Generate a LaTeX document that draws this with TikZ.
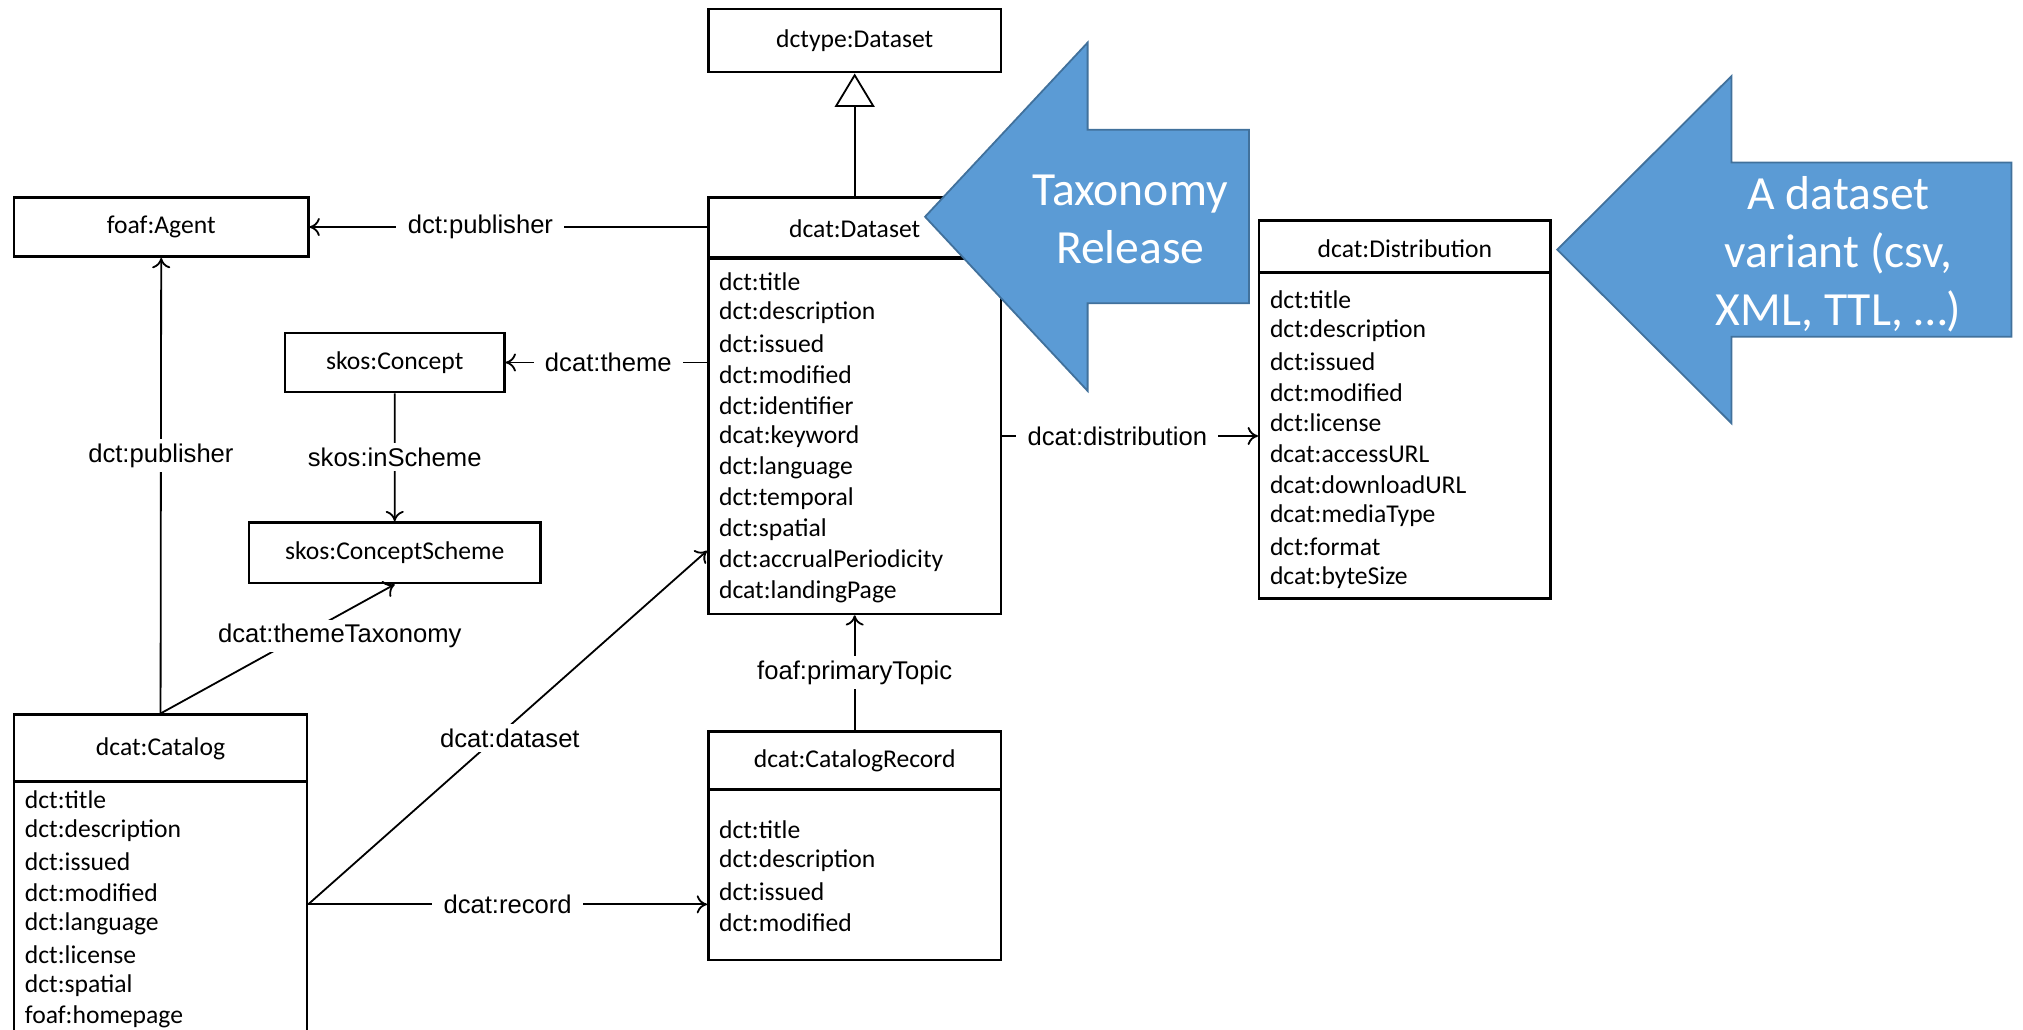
\documentclass[tikz,border=0pt]{standalone}
\usepackage{fontspec}
\setmainfont{Carlito}
\newfontfamily\lblfont{Liberation Sans}
\usetikzlibrary{arrows.meta}
\definecolor{arrowblue}{RGB}{91,155,213}
\definecolor{arrowedge}{RGB}{65,113,156}
\tikzset{
  umlbox/.style={draw,line width=1.1pt,anchor=north west,inner sep=0pt,font=\fontsize{11.3}{13}\selectfont},
  boxname/.style={inner sep=0pt,font=\fontsize{11.3}{13}\selectfont},
  attr/.style={anchor=west,inner sep=0pt,font=\fontsize{11.3}{13}\selectfont},
  divider/.style={line width=1.4pt},
  rel/.style={line width=0.8pt,-{To[length=1.6mm,width=2.8mm]}},
  gen/.style={line width=0.8pt,-{Triangle[open,length=5.2mm,width=6.2mm]}},
  lbl/.style={fill=white,inner xsep=5pt,inner ysep=2pt,font=\lblfont\fontsize{11.3}{13}\selectfont},
  bluearrow/.style={fill=arrowblue,draw=arrowedge,line width=0.8pt},
  bigtext/.style={text=white,align=center,font=\fontsize{21}{25.5}\selectfont}
}
\begin{document}
\begin{tikzpicture}[x=0.02cm,y=-0.02cm]
    \useasboundingbox (0,0) rectangle (1568,798);
    \node[umlbox,minimum width=4.54cm,minimum height=0.98cm] (dctype) at (548,6) {dctype:Dataset};
    \node[umlbox,minimum width=4.56cm,minimum height=0.92cm] (agent) at (10,152) {foaf:Agent};
    \node[umlbox,minimum width=3.4cm,minimum height=0.92cm] (concept) at (220,257) {skos:Concept};
    \node[umlbox,minimum width=4.52cm,minimum height=0.94cm] (scheme) at (192,404) {skos:ConceptScheme};
    \begin{scope}
      \node[umlbox,minimum width=4.54cm,minimum height=6.46cm] (dataset) at (548,152) {};
      \node[boxname] at ([yshift=-0.5cm]dataset.north) {dcat:Dataset};
      \draw[divider] ([yshift=-0.96cm]dataset.north west) -- ([yshift=-0.96cm]dataset.north east);
      \foreach \a [count=\i from 0] in {dct:title,dct:description,dct:issued,dct:modified,dct:identifier,dcat:keyword,dct:language,dct:temporal,dct:spatial,dct:accrualPeriodicity,dcat:landingPage}{
        \node[attr] at (557,{218+24.1*\i}) {\a};
      }
    \end{scope}
    \begin{scope}
      \node[umlbox,minimum width=4.52cm,minimum height=5.86cm] (dist) at (975,170) {};
      \node[boxname] at ([yshift=-0.46cm]dist.north) {dcat:Distribution};
      \draw[divider] ([yshift=-0.83cm]dist.north west) -- ([yshift=-0.83cm]dist.north east);
      \foreach \a [count=\i from 0] in {dct:title,dct:description,dct:issued,dct:modified,dct:license,dcat:accessURL,dcat:downloadURL,dcat:mediaType,dct:format,dcat:byteSize}{
        \node[attr] at (984,{232+24*\i}) {\a};
      }
    \end{scope}
    \begin{scope}
      \node[umlbox,minimum width=4.54cm,minimum height=5.2cm] (catalog) at (10,553) {};
      \node[boxname] at ([yshift=-0.54cm]catalog.north) {dcat:Catalog};
      \draw[divider] ([yshift=-1.06cm]catalog.north west) -- ([yshift=-1.06cm]catalog.north east);
      \foreach \a [count=\i from 0] in {dct:title,dct:description,dct:issued,dct:modified,dct:language,dct:license,dct:spatial,foaf:homepage}{
        \node[attr] at (19,{620+24*\i}) {\a};
      }
    \end{scope}
    \begin{scope}
      \node[umlbox,minimum width=4.54cm,minimum height=3.54cm] (record) at (548,566) {};
      \node[boxname] at ([yshift=-0.48cm]record.north) {dcat:CatalogRecord};
      \draw[divider] ([yshift=-0.92cm]record.north west) -- ([yshift=-0.92cm]record.north east);
      \foreach \a [count=\i from 0] in {dct:title,dct:description,dct:issued,dct:modified}{
        \node[attr] at (557,{643+24*\i}) {\a};
      }
    \end{scope}
    \draw[gen] (dataset.north) -- (dctype.south);
    \draw[rel] (agent.east -| dataset.west) -- node[lbl,pos=0.57] {dct:publisher} (agent.east);
    \draw[rel] (concept.east -| dataset.west) -- node[lbl,pos=0.49] {dcat:theme} (concept.east);
    \draw[rel] (concept.south) -- node[lbl] {skos:inScheme} (scheme.north);
    \draw[rel] (catalog.north) -- node[lbl,pos=0.566] {dct:publisher} (agent.south);
    \draw[rel] (catalog.north) -- node[lbl,pos=0.6,xshift=0.6cm] {dcat:themeTaxonomy} (scheme.south);
    \coordinate (catout) at ([yshift=-0.34cm]catalog.east);
    \draw[rel] (catout) -- node[lbl,pos=0.47,xshift=0.22cm] {dcat:dataset} ([yshift=1cm]dataset.south west);
    \draw[rel] (catout) -- node[lbl] {dcat:record} (catout -| record.west);
    \draw[rel] (record.north) -- node[lbl] {foaf:primaryTopic} (dataset.south);
    \coordinate (dsout) at ([yshift=-0.47cm]dataset.east);
    \draw[rel] (dsout) -- node[lbl,pos=0.45] {dcat:distribution} (dsout -| dist.west);
    \draw[bluearrow] (717,168) -- (843,33) -- (843,100.5) -- (968,100.5) -- (968,235) -- (843,235) -- (843,303) -- cycle;
    \node[bigtext] (taxrel) at (876,170) {Taxonomy\\Release};
    \draw[bluearrow] (1207,193.5) -- (1342,59) -- (1342,126) -- (1559,126) -- (1559,261) -- (1342,261) -- (1342,328) -- cycle;
    \node[bigtext] (variant) at (1425,197) {A dataset\\variant (csv,\\XML, TTL, …)};
  \end{tikzpicture}
\end{document}
